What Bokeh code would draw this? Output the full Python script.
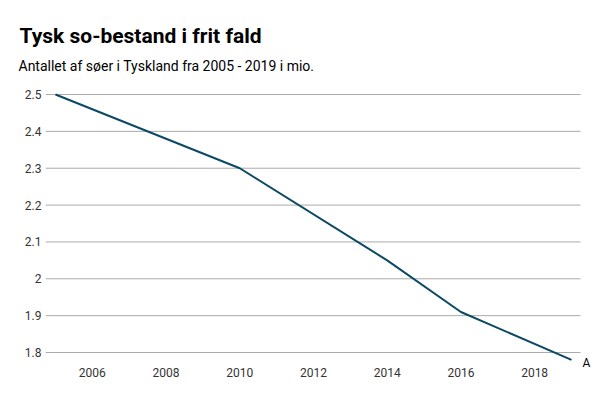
from bokeh.plotting import figure
from bokeh.models import FixedTicker, CustomJSTickFormatter, Range1d, Title
from bokeh.core.properties import value
from bokeh.embed import file_html
from bokeh.resources import INLINE

years = [2005, 2010, 2014, 2016, 2019]
sows = [2.5, 2.3, 2.05, 1.91, 1.78]
x_ticks = [2006, 2008, 2010, 2012, 2014, 2016, 2018]
y_ticks = [1.8, 1.9, 2.0, 2.1, 2.2, 2.3, 2.4, 2.5]
title_text = "Tysk so-bestand i frit fald"
subtitle_text = "Antallet af søer i Tyskland fra 2005 - 2019 i mio."
end_label = "A"

X0, X1 = 2004.729, 2019.7325
GRID_END = 2019.244
W, H = 598, 390
p = figure(width=W, height=H, output_backend="svg", toolbar_location=None,
           x_range=Range1d(X0, X1), y_range=Range1d(1.74574, 2.5109),
           min_border_left=45, min_border_right=0, min_border_top=90, min_border_bottom=18)
p.outline_line_color = None
p.background_fill_color = "white"
p.border_fill_color = "white"

p.segment(x0=[X0] * len(y_ticks), x1=[GRID_END] * len(y_ticks), y0=y_ticks, y1=y_ticks,
          line_color="#aaaaaa", line_width=1)
p.line(years, sows, line_color="#0b4a63", line_width=2)
p.text(x=[years[-1]], y=[sows[-1]], text=[end_label], x_offset=11, y_offset=3,
       text_align="left", text_baseline="middle", text_font=value("Roboto"),
       text_font_size="12px", text_color="#000000")

for ax in (p.xaxis[0], p.yaxis[0]):
    ax.axis_line_color = None
    ax.major_tick_line_color = None
    ax.minor_tick_line_color = None
    ax.major_tick_out = 0
    ax.major_tick_in = 0
    ax.minor_tick_out = 0
    ax.major_label_text_font = "Roboto"
    ax.major_label_text_font_size = "12px"
    ax.major_label_text_color = "#333333"
p.xaxis[0].ticker = FixedTicker(ticks=x_ticks)
p.yaxis[0].ticker = FixedTicker(ticks=y_ticks)
p.yaxis[0].formatter = CustomJSTickFormatter(code="return tick.toFixed(1).replace(/\\.0$/, '');")
p.xaxis[0].formatter = CustomJSTickFormatter(code="return tick.toFixed(0);")
p.yaxis[0].major_label_standoff = 4
p.xaxis[0].major_label_standoff = -5
p.xgrid.grid_line_color = None
p.ygrid.grid_line_color = None

p.title.visible = False
p.add_layout(Title(text=subtitle_text, text_font="Roboto", text_font_size="14px",
                   text_font_style="normal", text_color="#000000", align="left",
                   offset=-27, standoff=34), "above")
p.add_layout(Title(text=title_text, text_font="Roboto", text_font_size="21px",
                   text_font_style="bold", text_color="#000000", align="left",
                   offset=-26, standoff=-19), "above")

open("out.html", "w").write(file_html(p, INLINE))
